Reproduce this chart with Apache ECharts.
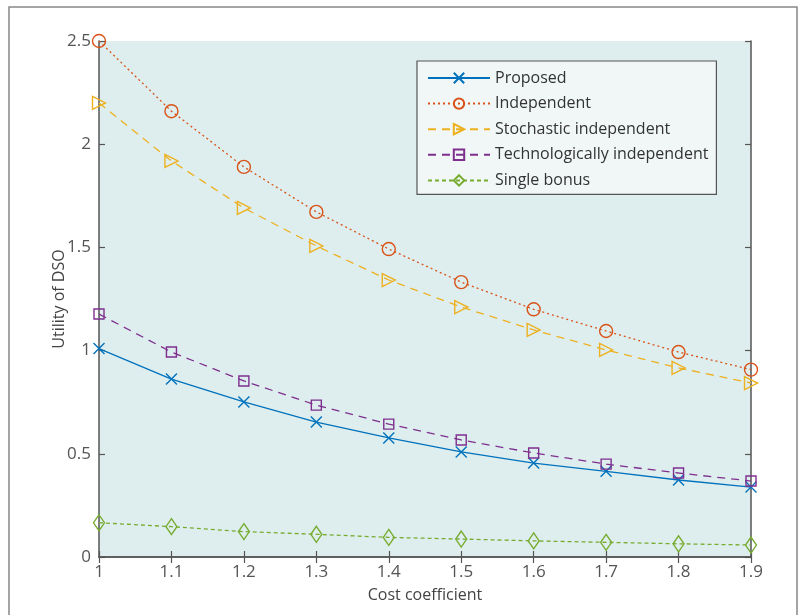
<!DOCTYPE html>
<html>
<head>
<meta charset="utf-8">
<script src="https://cdn.jsdelivr.net/npm/echarts@6/dist/echarts.min.js"></script>
<style>
  html, body { margin: 0; padding: 0; background: #fff; }
  #chart { width: 804px; height: 615px; }
</style>
</head>
<body>
<div id="chart"></div>
<script>
// cost coefficient on x axis
var costCoef = [1, 1.1, 1.2, 1.3, 1.4, 1.5, 1.6, 1.7, 1.8, 1.9];

var proposed      = [1.01, 0.862, 0.751, 0.654, 0.577, 0.509, 0.455, 0.415, 0.373, 0.339];
var independent   = [2.5, 2.16, 1.89, 1.672, 1.492, 1.332, 1.2, 1.095, 0.993, 0.908];
var stochastic    = [2.2, 1.919, 1.691, 1.507, 1.342, 1.211, 1.1, 1.003, 0.916, 0.843];
var technological = [1.177, 0.993, 0.853, 0.736, 0.644, 0.567, 0.504, 0.45, 0.407, 0.368];
var singleBonus   = [0.166, 0.147, 0.123, 0.110, 0.095, 0.087, 0.078, 0.071, 0.064, 0.058];

var yTicks = [0, 0.5, 1, 1.5, 2, 2.5];

function pairs(ys) {
  return costCoef.map(function (x, i) { return [x, ys[i]]; });
}

var FONT = "'Open Sans', sans-serif";

var myChart = echarts.init(document.getElementById('chart'));

function mkSeries(name, ys, color, symbol, size, dash) {
  return {
    name: name,
    type: 'line',
    data: pairs(ys),
    symbol: symbol,
    symbolSize: size,
    showAllSymbol: true,
    smooth: false,
    lineStyle: { color: color, width: 1.3, type: dash },
    itemStyle: { color: 'transparent', borderColor: color, borderWidth: 1.4 },
    emphasis: { disabled: true },
    z: 3
  };
}

var axisLine = { show: true, lineStyle: { color: '#555', width: 1.5 } };
var axisTick = { show: true, inside: true, length: 6, lineStyle: { color: '#555', width: 1.2 } };

var option = {
  animation: false,
  grid: { left: 99, top: 41, right: 53, bottom: 58, show: true, backgroundColor: '#deeeee', borderWidth: 0 },
  graphic: [{
    type: 'rect',
    shape: { x: 9, y: 7, width: 788, height: 640 },
    style: { fill: 'none', stroke: '#888', lineWidth: 1.5 },
    silent: true, z: -1
  }],
  legend: {
    orient: 'vertical',
    left: 417, top: 61,
    padding: [9, 8, 6, 10],
    itemGap: 9.6,
    itemWidth: 62,
    itemHeight: 13,
    backgroundColor: '#f1f7f7',
    borderColor: '#555',
    borderWidth: 1.2,
    textStyle: { fontFamily: FONT, fontSize: 16, color: '#333' }
  },
  xAxis: [{
    type: 'value', min: 1, max: 1.9, interval: 0.1,
    name: 'Cost coefficient', nameLocation: 'middle', nameGap: 30,
    nameTextStyle: { fontFamily: FONT, fontSize: 16, color: '#444' },
    axisLine: axisLine, axisTick: axisTick, splitLine: { show: false },
    axisLabel: { fontFamily: FONT, fontSize: 17, color: '#555', margin: 7,
      formatter: function (v) { return +v.toFixed(1) + ''; } }
  }, {
    type: 'value', position: 'top', min: 1, max: 1.9, interval: 0.1,
    axisLine: axisLine, axisTick: axisTick, splitLine: { show: false }, axisLabel: { show: false }
  }],
  yAxis: [{
    type: 'value', min: 0, max: 2.5, interval: 0.5,
    name: 'Utility of DSO', nameLocation: 'middle', nameGap: 32, nameMoveOverlap: false,
    nameTextStyle: { fontFamily: FONT, fontSize: 16, color: '#444' },
    axisLine: axisLine, axisTick: axisTick, splitLine: { show: false },
    axisLabel: { fontFamily: FONT, fontSize: 17, color: '#555', margin: 8,
      formatter: function (v) { return yTicks.indexOf(+v.toFixed(1)) >= 0 ? +v.toFixed(1) + '' : ''; } }
  }, {
    type: 'value', position: 'right', min: 0, max: 2.5, interval: 0.5,
    axisLine: axisLine, axisTick: axisTick, splitLine: { show: false }, axisLabel: { show: false }
  }],
  series: [
    mkSeries('Proposed', proposed, '#0072BD', 'path://M0,0L10,10M10,0L0,10', 11, 'solid'),
    mkSeries('Independent', independent, '#D95319', 'circle', 13, [2, 3]),
    mkSeries('Stochastic independent', stochastic, '#EDB120', 'path://M0,0L11,6L0,12Z', 13, [8, 6]),
    mkSeries('Technologically independent', technological, '#7E2F8E', 'rect', 10, [8, 6]),
    mkSeries('Single bonus', singleBonus, '#77AC30', 'diamond', [11, 16], [4, 3])
  ]
};

myChart.setOption(option);
</script>
</body>
</html>
